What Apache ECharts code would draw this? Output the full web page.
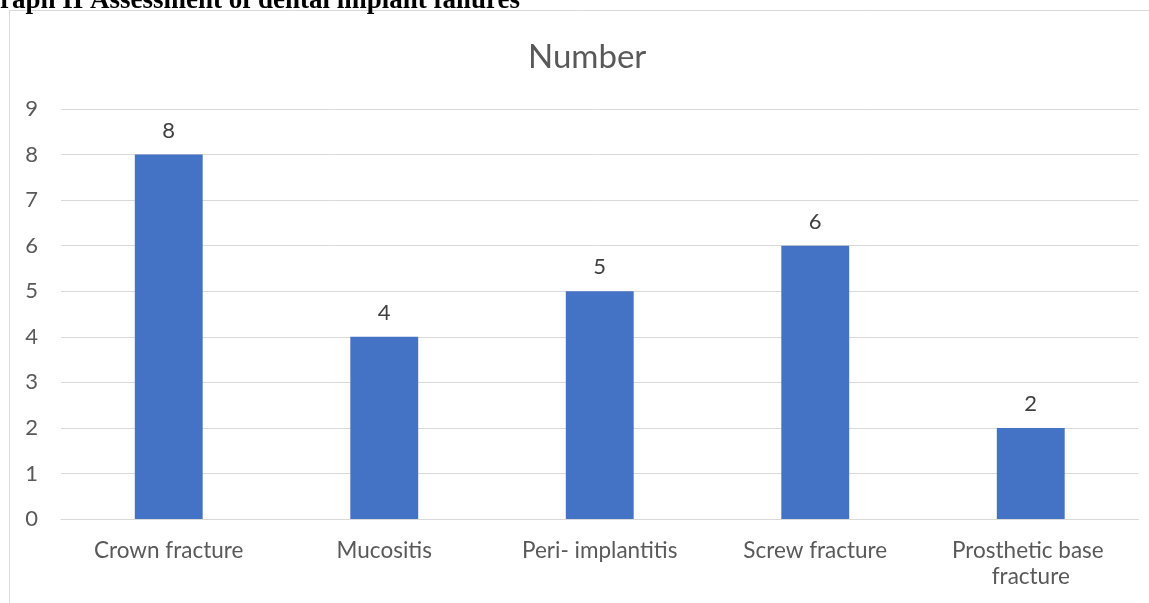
<!DOCTYPE html>
<html>
<head>
<meta charset="utf-8">
<style>
  html, body { margin: 0; padding: 0; background: #ffffff; }
  #chart { width: 1149px; height: 603px; }
</style>
<script src="https://cdn.jsdelivr.net/npm/echarts@6/dist/echarts.min.js"></script>
</head>
<body>
<div id="chart"></div>
<script>
// Failure types and their counts
const categories = ['Crown fracture', 'Mucositis', 'Peri- implantitis', 'Screw fracture', 'Prosthetic base fracture'];
const counts = [8, 4, 5, 6, 2];
const yTicks = [0, 1, 2, 3, 4, 5, 6, 7, 8, 9];

const chart = echarts.init(document.getElementById('chart'), null, { renderer: 'canvas' });

const font = 'Lato, "Open Sans", sans-serif';

chart.setOption({
  animation: false,
  backgroundColor: '#ffffff',
  graphic: [
    {
      type: 'rect',
      shape: { x: 9.5, y: 10.5, width: 1200, height: 700 },
      style: { fill: 'none', stroke: '#d9d9d9', lineWidth: 1 },
      silent: true,
      z: -1
    }
  ],
  title: [
    {
      text: 'Graph II Assessment of dental implant failures',
      left: -21,
      top: -12,
      padding: 0,
      textStyle: {
        fontFamily: '"Liberation Serif", "Times New Roman", serif',
        fontWeight: 'bold',
        fontSize: 27,
        color: '#000000'
      }
    },
    {
      text: 'Number',
      left: 528,
      top: 41,
      padding: 0,
      textStyle: {
        fontFamily: font,
        fontWeight: 'normal',
        fontSize: 33,
        color: '#595959'
      }
    }
  ],
  grid: { left: 61, right: 10.5, top: 109, bottom: 84, containLabel: false },
  xAxis: {
    type: 'category',
    data: categories,
    axisLine: { show: true, lineStyle: { color: '#d9d9d9', width: 1 } },
    axisTick: { show: false },
    axisLabel: {
      color: '#595959',
      fontFamily: font,
      fontSize: 22.5,
      lineHeight: 26,
      margin: 19,
      width: 200,
      overflow: 'break',
      interval: 0
    }
  },
  yAxis: {
    type: 'value',
    min: yTicks[0],
    max: yTicks[yTicks.length - 1],
    interval: 1,
    axisLine: { show: false },
    axisTick: { show: false },
    splitLine: { lineStyle: { color: '#d9d9d9', width: 1 } },
    axisLabel: {
      color: '#595959',
      fontFamily: font,
      fontSize: 22,
      margin: 23
    }
  },
  series: [
    {
      type: 'bar',
      data: counts,
      barWidth: '31.5%',
      itemStyle: { color: '#4472c4' },
      label: {
        show: true,
        position: 'top',
        distance: 13,
        color: '#404040',
        fontFamily: font,
        fontSize: 22
      }
    }
  ]
});
</script>
</body>
</html>
